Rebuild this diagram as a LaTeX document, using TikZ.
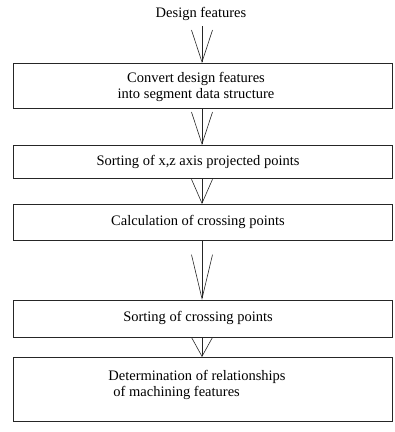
\documentclass[tikz,border=0pt]{standalone}
\usepackage{fontspec}
\setmainfont{Liberation Serif}
\usetikzlibrary{arrows.meta}
\begin{document}
\begin{tikzpicture}[x=1pt,y=-1pt,
  txt/.style={font=\fontsize{14.5}{16}\selectfont, inner sep=0pt, align=center},
  boxline/.style={draw=black!85, line width=0.8pt},
  flow/.style={draw=black!85, line width=0.6pt}]
\useasboundingbox (0,0) rectangle (395,432);
% texts
\node[txt] (df) at (201,14) {Design features};
% boxes
\draw[boxline] (13,63) rectangle (392,108);
\node[txt] (b1) at (196,87) {Convert design features\\into segment data structure};
\draw[boxline] (13,145) rectangle (392,178);
\node[txt] (b2) at (198,162) {Sorting of x,z axis projected points};
\draw[boxline] (13,204) rectangle (392,240);
\node[txt] (b3) at (198,222) {Calculation of crossing points};
\draw[boxline] (13,300) rectangle (392,337);
\node[txt] (b4) at (198,318) {Sorting of crossing points};
\draw[boxline] (13,357) rectangle (392,421);
\node[txt, align=left] (b5) at (197,385) {Determination of relationships\\\hspace*{5pt}of machining features};
% connector coordinates
\coordinate (a0s) at (202,26);  \coordinate (a0e) at (202,63);
\coordinate (a1s) at (202,108); \coordinate (a1e) at (202,145);
\coordinate (a2s) at (202,178); \coordinate (a2e) at (202,204);
\coordinate (a3s) at (202,240); \coordinate (a3e) at (202,300);
\coordinate (a4s) at (202,337); \coordinate (a4e) at (202,357);
\draw[flow, -{Straight Barb[length=32pt, width=21pt, line width=0.6pt]}] (a0s) -- (a0e);
\draw[flow, -{Straight Barb[length=32pt, width=21pt, line width=0.6pt]}] (a1s) -- (a1e);
\draw[flow, -{Straight Barb[length=24pt, width=21pt, line width=0.6pt]}] (a2s) -- (a2e);
\draw[flow, -{Straight Barb[length=44pt, width=21pt, line width=0.6pt]}] (a3s) -- (a3e);
\draw[flow, -{Straight Barb[length=19pt, width=21pt, line width=0.6pt]}] (a4s) -- (a4e);
\end{tikzpicture}
\end{document}
